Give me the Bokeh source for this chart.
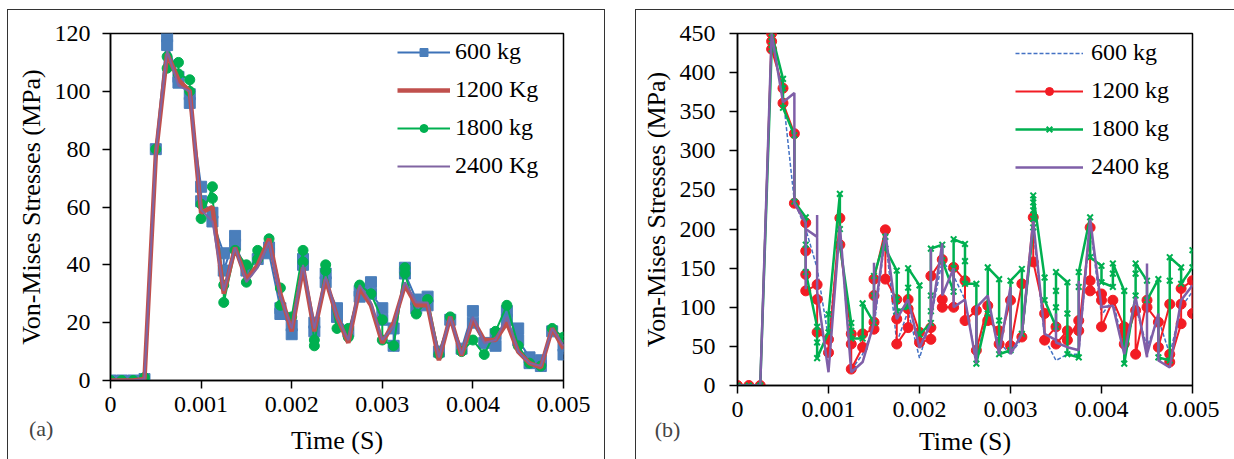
from bokeh.plotting import figure
from bokeh.models import FixedTicker, Legend, LegendItem, Label, Range1d, Spacer
from bokeh.layouts import row, column
from bokeh.embed import file_html
from bokeh.resources import INLINE

FONT = "'Liberation Serif', 'Times New Roman', serif"

# ---------------- data: panel (a) ----------------
a_labels = ["600 kg", "1200 Kg", "1800 kg", "2400 Kg"]

a600_t = [0, 0.000125, 0.00025, 0.000375, 0.0005, 0.000625, 0.000625, 0.00075, 0.00075,
          0.000875, 0.000875, 0.001, 0.001, 0.001125, 0.001125, 0.00125, 0.00125, 0.001375,
          0.001375, 0.0015, 0.001625, 0.00175, 0.00175, 0.001875, 0.001875, 0.002, 0.002,
          0.002125, 0.002125, 0.00225, 0.00225, 0.002375, 0.002375, 0.0025, 0.0025, 0.002625,
          0.00275, 0.00275, 0.002875, 0.002875, 0.003, 0.003, 0.003125, 0.003125, 0.00325,
          0.00325, 0.003375, 0.003375, 0.0035, 0.0035, 0.003625, 0.00375, 0.003875, 0.004,
          0.004, 0.004125, 0.00425, 0.00425, 0.004375, 0.004375, 0.0045, 0.0045, 0.004625,
          0.004625, 0.00475, 0.00475, 0.004875, 0.005, 0.005]
a600_v = [0, 0, 0, 0.5, 80, 119, 116, 105, 103,
          99, 96, 67, 62, 58, 55, 44, 38, 50,
          47, 38, 42, 46, 44, 25, 23, 19, 16,
          42, 40, 20, 17, 37, 34, 25, 22, 17,
          31, 29, 34, 30, 25, 21, 18, 12, 39,
          37, 28, 25, 29, 26, 10, 21, 11, 24,
          20, 13, 16, 12, 24, 21, 18, 14, 8,
          6, 7, 5, 17, 12, 9]

a_t = [0, 0.000125, 0.00025, 0.000375, 0.0005, 0.000625, 0.00075, 0.000875, 0.001, 0.001125,
       0.00125, 0.001375, 0.0015, 0.001625, 0.00175, 0.001875, 0.002, 0.002125, 0.00225,
       0.002375, 0.0025, 0.002625, 0.00275, 0.002875, 0.003, 0.003125, 0.00325, 0.003375,
       0.0035, 0.003625, 0.00375, 0.003875, 0.004, 0.004125, 0.00425, 0.004375, 0.0045,
       0.004625, 0.00475, 0.004875, 0.005]
a1200_v = [0, 0, 0, 0.5, 78, 113, 104, 100, 58, 60,
           30, 46, 35, 40, 49, 30, 17, 39, 17,
           35, 22, 13, 32, 26, 13, 20, 33, 26,
           26, 7, 22, 8.6, 21, 14, 14, 20, 10,
           6, 4.5, 18, 11]
a2400_v = [0, 0, 0, 0.5, 79, 114, 102, 100, 59, 55,
           31, 46, 34, 39, 48, 29, 18, 40, 18,
           36, 22, 14, 33, 27, 14, 19, 34, 27,
           27, 8, 22, 9, 22, 13, 14, 22, 10,
           6, 5, 18, 12]

a1800_t = [0, 0.000125, 0.00025, 0.000375, 0.0005, 0.000625, 0.000625, 0.00075, 0.00075,
           0.000875, 0.000875, 0.001, 0.001, 0.001125, 0.001125, 0.00125, 0.00125, 0.001375,
           0.0015, 0.0015, 0.001625, 0.001625, 0.00175, 0.001875, 0.001875, 0.002, 0.002125,
           0.002125, 0.00225, 0.00225, 0.002375, 0.002375, 0.0025, 0.002625, 0.002625,
           0.00275, 0.002875, 0.003, 0.003, 0.003125, 0.00325, 0.00325, 0.003375, 0.0035,
           0.003625, 0.00375, 0.003875, 0.004, 0.004125, 0.00425, 0.004375, 0.0045, 0.004625,
           0.00475, 0.004875, 0.005]
a1800_v = [0, 0, 0, 1, 80, 112, 108, 110, 106,
           104, 100, 61, 56, 67, 63, 33, 27, 45,
           40, 34, 45, 42, 49, 32, 26, 22, 45,
           41, 14, 12, 40, 38, 18, 18, 15,
           33, 30, 21, 14, 12, 39, 37, 23, 28,
           9, 22, 10, 14, 9, 17, 26, 12, 6,
           5, 18, 15]

# ---------------- data: panel (b) ----------------
b_labels = ["600 kg", "1200 kg", "1800 kg", "2400 kg"]

b600_t = a_t
b600_v = [0, 0, 0, 445, 370, 235, 200, 150, 60, 200,
          20, 40, 75, 190, 55, 95, 35, 85, 160,
          140, 110, 30, 100, 55, 40, 60, 200, 60,
          32, 40, 40, 205, 90, 110, 45, 100, 50,
          85, 40, 100, 120]

b1200_t = [0, 0.000125, 0.00025, 0.000375, 0.000375, 0.000375, 0.0005, 0.0005, 0.000625,
           0.000625, 0.00075, 0.00075, 0.00075, 0.00075, 0.000875, 0.000875, 0.000875, 0.001,
           0.001, 0.001125, 0.001125, 0.00125, 0.00125, 0.00125, 0.001375, 0.001375, 0.0015,
           0.0015, 0.0015, 0.0015, 0.001625, 0.001625, 0.00175, 0.00175, 0.00175, 0.001875,
           0.001875, 0.001875, 0.002, 0.002, 0.002125, 0.002125, 0.002125, 0.00225, 0.00225,
           0.00225, 0.002375, 0.002375, 0.0025, 0.0025, 0.002625, 0.002625, 0.00275, 0.00275,
           0.002875, 0.002875, 0.003, 0.003, 0.003125, 0.003125, 0.00325, 0.00325, 0.003375,
           0.003375, 0.0035, 0.0035, 0.003625, 0.003625, 0.00375, 0.00375, 0.003875, 0.003875,
           0.003875, 0.004, 0.004, 0.004, 0.004125, 0.00425, 0.00425, 0.00425, 0.004375,
           0.004375, 0.0045, 0.0045, 0.004625, 0.004625, 0.00475, 0.00475, 0.00475, 0.004875,
           0.004875, 0.004875, 0.005, 0.005]
b1200_v = [0, 0, 0, 450, 440, 430, 380, 361, 322,
           233, 208, 172, 142, 121, 129, 110, 68, 59,
           42, 214, 180, 66, 53, 21, 49, 66, 72,
           81, 115, 136, 199, 136, 110, 85, 53, 74,
           98, 110, 68, 55, 59, 74, 140, 161, 110,
           100, 100, 151, 134, 83, 96, 45, 102, 83,
           70, 53, 109, 51, 130, 62, 215, 158, 92,
           58, 75, 53, 70, 58, 83, 70, 202, 134,
           121, 117, 109, 75, 109, 75, 66, 53, 96,
           40, 109, 100, 81, 49, 104, 40, 30, 79,
           104, 124, 134, 92]

b1800_t = [0, 0.000125, 0.00025, 0.000375, 0.000375, 0.000375, 0.0005, 0.0005, 0.0005,
           0.000625, 0.000625, 0.00075, 0.00075, 0.00075, 0.000875, 0.000875, 0.000875, 0.001,
           0.001, 0.001125, 0.001125, 0.001125, 0.00125, 0.00125, 0.00125, 0.001375, 0.001375,
           0.0015, 0.0015, 0.0015, 0.001625, 0.001625, 0.00175, 0.00175, 0.00175, 0.001875,
           0.001875, 0.001875, 0.002, 0.002, 0.002125, 0.002125, 0.002125, 0.002125, 0.00225,
           0.00225, 0.002375, 0.002375, 0.002375, 0.0025, 0.0025, 0.0025, 0.002625, 0.002625,
           0.00275, 0.00275, 0.002875, 0.002875, 0.002875, 0.003, 0.003, 0.003125, 0.003125,
           0.00325, 0.00325, 0.00325, 0.00325, 0.00325, 0.003375, 0.003375, 0.0035, 0.0035,
           0.0035, 0.0035, 0.003625, 0.003625, 0.003625, 0.00375, 0.00375, 0.00375, 0.003875,
           0.003875, 0.004, 0.004, 0.004125, 0.004125, 0.004125, 0.00425, 0.00425, 0.004375,
           0.004375, 0.004375, 0.0045, 0.0045, 0.004625, 0.004625, 0.00475, 0.00475, 0.00475,
           0.004875, 0.004875, 0.005, 0.005]
b1800_v = [0, 0, 0, 430, 440, 450, 392, 380, 355,
           320, 235, 215, 180, 145, 75, 55, 35, 68,
           91, 245, 200, 180, 80, 70, 60, 60, 105,
           80, 115, 140, 190, 175, 147, 110, 95, 100,
           125, 150, 128, 65, 80, 95, 115, 175, 180,
           160, 120, 150, 187, 181, 159, 130, 130, 28,
           92, 151, 136, 83, 40, 45, 134, 149, 66,
           202, 213, 224, 234, 243, 138, 109, 75, 100,
           121, 145, 132, 92, 40, 36, 126, 145, 215,
           164, 153, 132, 126, 143, 156, 121, 28, 115,
           143, 156, 134, 109, 136, 36, 32, 134, 164,
           151, 130, 151, 173]

b2400_t = [0, 0.000125, 0.00025, 0.000375, 0.0005, 0.000625, 0.000625, 0.00075, 0.00075,
           0.00075, 0.000875, 0.000875, 0.000875, 0.001, 0.001125, 0.00125, 0.001375, 0.0015,
           0.0015, 0.0015, 0.001625, 0.00175, 0.001875, 0.002, 0.002125, 0.002125, 0.002125,
           0.00225, 0.00225, 0.002375, 0.002375, 0.0025, 0.002625, 0.002625, 0.00275, 0.002875,
           0.003, 0.003, 0.003125, 0.00325, 0.003375, 0.0035, 0.0035, 0.0035, 0.003625,
           0.00375, 0.00375, 0.00375, 0.003875, 0.004, 0.004125, 0.00425, 0.004375, 0.0045,
           0.0045, 0.0045, 0.004625, 0.004625, 0.00475, 0.004875, 0.005]
b2400_v = [0, 0, 0, 450, 362, 374, 233, 208, 123,
           200, 190, 218, 120, 17, 204, 17, 30, 80,
           157, 85, 195, 85, 110, 48, 80, 175, 85,
           182, 115, 150, 100, 110, 28, 100, 115, 40,
           126, 40, 66, 210, 66, 58, 92, 55, 49,
           45, 134, 45, 213, 100, 102, 40, 113, 36,
           156, 40, 92, 32, 23, 109, 128]

x_ticks = [0, 0.001, 0.002, 0.003, 0.004, 0.005]
x_tick_labels = ["0", "0.001", "0.002", "0.003", "0.004", "0.005"]
a_y_ticks = [0, 20, 40, 60, 80, 100, 120]
b_y_ticks = [0, 50, 100, 150, 200, 250, 300, 350, 400, 450]


def base_fig(fw, fh, ml, mr, mt, mb, ymax, yticks, ystandoff, xtitle_standoff):
    p = figure(frame_width=fw, frame_height=fh, output_backend="svg", toolbar_location=None,
               x_range=Range1d(0, 0.005), y_range=Range1d(0, ymax),
               min_border_left=ml, min_border_right=mr, min_border_top=mt,
               min_border_bottom=mb)
    p.styles = {"outline": "1px solid #333"}
    p.grid.visible = False
    p.outline_line_color = "black"
    p.outline_line_width = 1.5
    p.background_fill_color = "white"
    p.border_fill_color = "white"
    for ax in (p.xaxis[0], p.yaxis[0]):
        ax.axis_line_color = "black"
        ax.axis_line_width = 1.5
        ax.major_tick_line_color = "black"
        ax.major_tick_line_width = 1.5
        ax.major_tick_out = 8
        ax.major_tick_in = 0
        ax.minor_tick_line_color = None
        ax.major_label_text_font = FONT
        ax.major_label_text_font_size = "24px"
        ax.major_label_text_color = "black"
        ax.axis_label_text_font = FONT
        ax.axis_label_text_font_size = "26px"
        ax.axis_label_text_font_style = "normal"
        ax.axis_label_text_color = "black"
    p.xaxis.ticker = FixedTicker(ticks=x_ticks)
    p.xaxis.major_label_overrides = dict(zip(x_ticks, x_tick_labels))
    p.xaxis.major_label_standoff = 8
    p.xaxis.axis_label = "Time (S)"
    p.xaxis.axis_label_standoff = xtitle_standoff
    p.yaxis.ticker = FixedTicker(ticks=yticks)
    p.yaxis.major_label_standoff = ystandoff
    p.yaxis.axis_label = "Von-Mises Stresses (MPa)"
    p.yaxis.axis_label_standoff = 6
    return p


def style_legend(leg, gw):
    leg.label_text_font = FONT
    leg.label_text_font_size = "24px"
    leg.label_text_color = "black"
    leg.glyph_width = gw
    leg.glyph_height = 20
    leg.label_height = 26
    leg.label_standoff = 5
    leg.spacing = 11
    leg.padding = 3
    leg.margin = 0
    leg.background_fill_alpha = 0
    leg.border_line_alpha = 0


# ---------------- panel (a) ----------------
pa = base_fig(453, 347, 102, 41, 23, 79, 120, a_y_ticks, 12, 11)
c_blue_a, c_red_a, c_green, c_purple = "#3D72B8", "#C0504D", "#00B050", "#8064A2"

l600 = pa.line(a600_t, a600_v, line_color=c_blue_a, line_width=2)
s600 = pa.scatter(a600_t, a600_v, marker="square", size=11, fill_color="#4A7EBB",
                  line_color="#4A7EBB")
l1800 = pa.line(a1800_t, a1800_v, line_color=c_green, line_width=2)
s1800 = pa.scatter(a1800_t, a1800_v, marker="circle", size=10, fill_color=c_green,
                   line_color=c_green)
l1200 = pa.line(a_t, a1200_v, line_color=c_red_a, line_width=4.5)
l2400 = pa.line(a_t, a2400_v, line_color=c_purple, line_width=2)

leg_a = Legend(items=[LegendItem(label=a_labels[0], renderers=[l600, s600]),
                      LegendItem(label=a_labels[1], renderers=[l1200]),
                      LegendItem(label=a_labels[2], renderers=[l1800, s1800]),
                      LegendItem(label=a_labels[3], renderers=[l2400])],
               location=(284, 198))
style_legend(leg_a, 53)
pa.add_layout(leg_a)
pa.add_layout(Label(x=-0.0009, y=-16.5, text="(a)", text_font=FONT,
                    text_font_size="22px", text_baseline="middle", text_align="left"),
              "right")

# ---------------- panel (b) ----------------
pb = base_fig(455, 352, 101, 42, 23, 74, 450, b_y_ticks, 14, 7)
c_blue_b, c_red_b = "#4472C4", "#F21C24"

lb600 = pb.line(b600_t, b600_v, line_color=c_blue_b, line_width=1.5, line_dash="4 2")
lb1200 = pb.line(b1200_t, b1200_v, line_color=c_red_b, line_width=2)
sb1200 = pb.scatter(b1200_t, b1200_v, marker="circle", size=10, fill_color=c_red_b,
                    line_color=c_red_b)
lb1800 = pb.line(b1800_t, b1800_v, line_color=c_green, line_width=2.5)
sb1800 = pb.scatter(b1800_t, b1800_v, marker="x", size=8, line_color=c_green,
                    line_width=2)
lb2400 = pb.line(b2400_t, b2400_v, line_color="#7F5FA8", line_width=2.5)

leg_b = Legend(items=[LegendItem(label=b_labels[0], renderers=[lb600]),
                      LegendItem(label=b_labels[1], renderers=[lb1200, sb1200]),
                      LegendItem(label=b_labels[2], renderers=[lb1800, sb1800]),
                      LegendItem(label=b_labels[3], renderers=[lb2400])],
               location=(275, 202))
style_legend(leg_b, 68)
leg_b.label_standoff = 8
pb.add_layout(leg_b)
pb.add_layout(Label(x=-0.00091, y=-56, text="(b)", text_font=FONT,
                    text_font_size="22px", text_baseline="middle", text_align="left"),
              "right")

layout = column(Spacer(height=10),
                row(Spacer(width=8), pa, Spacer(width=32), pb))
open("out.html", "w").write(file_html(layout, INLINE))
